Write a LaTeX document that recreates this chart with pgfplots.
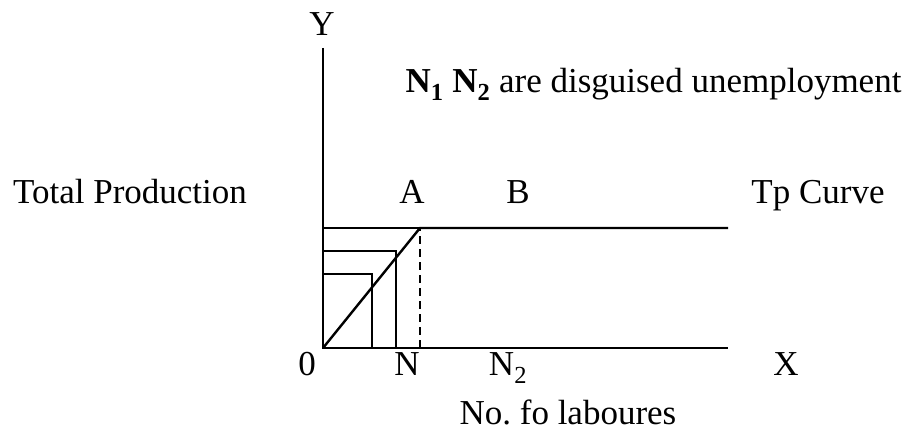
\documentclass[border=0pt]{standalone}
\usepackage{fontspec}
\setmainfont{Liberation Serif}
\usepackage{pgfplots}
\pgfplotsset{compat=1.18}
\begin{document}
\begin{tikzpicture}[font=\fontsize{35}{40}\selectfont]
\begin{axis}[hide axis, scale only axis, width=908pt, height=433pt,
  xmin=-323, xmax=585, ymin=-85, ymax=348, clip=false,
  every node/.style={inner sep=0pt}]
% axes
\addplot[black, line width=2.4pt] coordinates {(0,300) (0,0) (405,0)};
% TP curve
\addplot[black, line width=2.4pt] coordinates {(0,0) (97,120) (405,120)};
\addplot[black, line width=2.4pt] coordinates {(0,120) (97,120)};
% rectangles
\addplot[black, line width=2.4pt] coordinates {(0,97) (73,97) (73,0)};
\addplot[black, line width=2.4pt] coordinates {(0,74) (49,74) (49,0)};
% dashed
\addplot[black, line width=2pt, dash pattern=on 8pt off 5pt] coordinates {(97,0) (97,120)};
% labels
\node[anchor=base] at (axis cs:-1,312) {Y};
\node[anchor=base west] at (axis cs:79,255) {\textbf{N\textsubscript{1} N\textsubscript{2}} are disguised unemployment};
\node[anchor=base] at (axis cs:-193,144) {Total Production};
\node[anchor=base] at (axis cs:89,144) {A};
\node[anchor=base] at (axis cs:195,144) {B};
\node[anchor=base] at (axis cs:495,144) {Tp Curve};
\node[anchor=base] at (axis cs:-16,-28) {0};
\node[anchor=base] at (axis cs:84,-28) {N};
\node[anchor=base] at (axis cs:185,-28) {N\textsubscript{2}};
\node[anchor=base] at (axis cs:463,-28) {X};
\node[anchor=base] at (axis cs:245,-77) {No.\ fo laboures};
\end{axis}
\pgfresetboundingbox
\path[use as bounding box] (current axis.south west) rectangle (current axis.north east);
\end{tikzpicture}
\end{document}
